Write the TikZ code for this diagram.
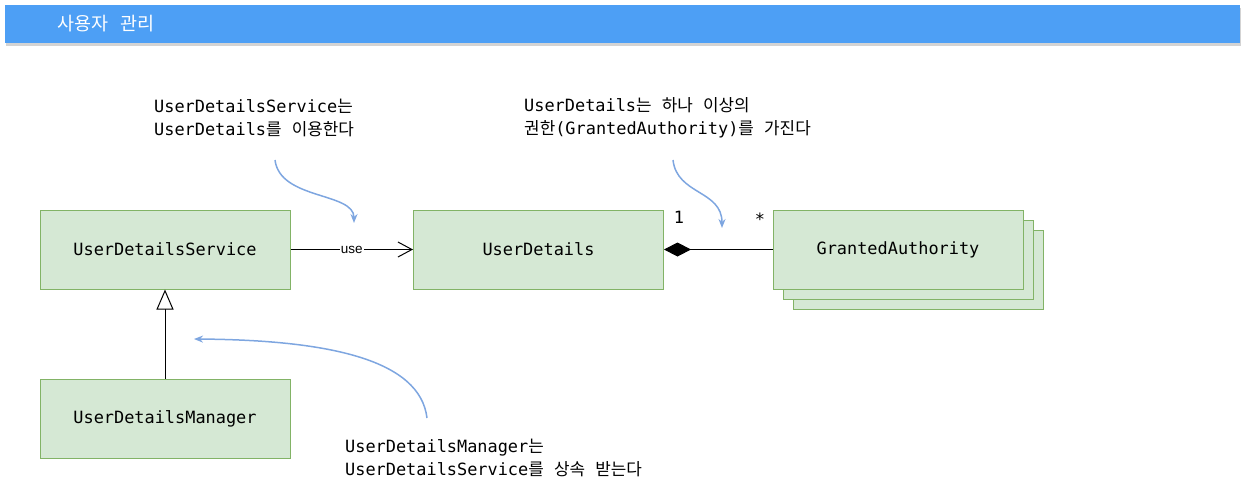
\documentclass[tikz,border=0pt]{standalone}
\usepackage{fontspec}
\setmainfont{Liberation Sans}
\setmonofont{DejaVu Sans Mono}
\newfontfamily\kor{Noto Sans CJK KR}
\usetikzlibrary{arrows.meta,shadows}

\definecolor{boxfill}{HTML}{D5E8D4}
\definecolor{boxline}{HTML}{82B366}
\definecolor{hintblue}{HTML}{7EA6E0}
\definecolor{titleblue}{HTML}{4D9FF5}

\newcommand{\boxfont}{\fontsize{16.9}{23}\selectfont\ttfamily}
\newcommand{\titlefont}{\fontsize{18.5}{20}\selectfont\kor}
\newcommand{\uselabelfont}{\fontsize{13.5}{16}\selectfont\rmfamily}

\begin{document}
\begin{tikzpicture}[x=1pt,y=-1pt,
   classbox/.style={draw=boxline,fill=boxfill,line width=1pt,
      minimum width=250pt,minimum height=79pt,font=\boxfont},
   note/.style={anchor=west,align=left,inner sep=0pt,font=\boxfont},
   mult/.style={inner sep=0pt,font=\boxfont},
   hint/.style={draw=hintblue,line width=1.5pt,-{Stealth[length=9pt,width=7pt]}}]

\useasboundingbox (0,0) rectangle (1246,499);

% title bar
\node[fill=titleblue,inner sep=0pt,anchor=north west,
   minimum width=1235pt,minimum height=38pt,
   drop shadow={shadow xshift=1pt,shadow yshift=-3pt,opacity=0.35}] (title) at (5,5) {};
\node[anchor=west,inner sep=0pt,text=white,font=\titlefont] (titletext) at (57,24) {사용자\hspace{12pt}관리};

% classes
\node[classbox] (svc) at (165,249.5) {UserDetailsService};
\node[classbox] (det) at (538.5,249.5) {UserDetails};
\node[classbox] (ga3) at (918,269.5) {};
\node[classbox] (ga2) at (908,259.5) {};
\node[classbox] (ga) at (898,249.5) {GrantedAuthority};
\node[classbox] (mgr) at (165,418.5) {UserDetailsManager};

% relations
\draw[line width=1pt,-{Straight Barb[length=14pt,width=15pt]}] (svc) --
   node[fill=white,inner sep=1pt,font=\uselabelfont] (uselbl) {use} (det);
\draw[line width=1pt,{Diamond[length=27pt,width=14pt]}-] (det) -- (ga);
\draw[line width=1pt,-{Triangle[open,length=20pt,width=17pt,fill=white]}] (mgr) -- (svc);

\node[mult] (one) at (679,217) {1};
\node[mult] (many) at (760,219) {*};

% notes
\node[note] (note1) at (154,118) {UserDetailsService{\kor 는}\\UserDetails{\kor 를} {\kor 이용한다}};
\node[note] (note2) at (524,118) {UserDetails{\kor 는} {\kor 하나} {\kor 이상의}\\{\kor 권한}(GrantedAuthority){\kor 를} {\kor 가진다}};
\node[note] (note3) at (345,458) {UserDetailsManager{\kor 는}\\UserDetailsService{\kor 를} {\kor 상속} {\kor 받는다}};

% hints
\coordinate (h1s) at (275,160);
\coordinate (h1e) at (354,223);
\coordinate (h2s) at (673,160);
\coordinate (h2e) at (722,228);
\coordinate (h3s) at (427,418);
\coordinate (h3e) at (194,339);
\draw[hint] (h1s) .. controls (280,200) and (354,192) .. (h1e);
\draw[hint] (h2s) .. controls (677,195) and (722,190) .. (h2e);
\draw[hint] (h3s) .. controls (420,360) and (330,340) .. (h3e);

\end{tikzpicture}
\end{document}
